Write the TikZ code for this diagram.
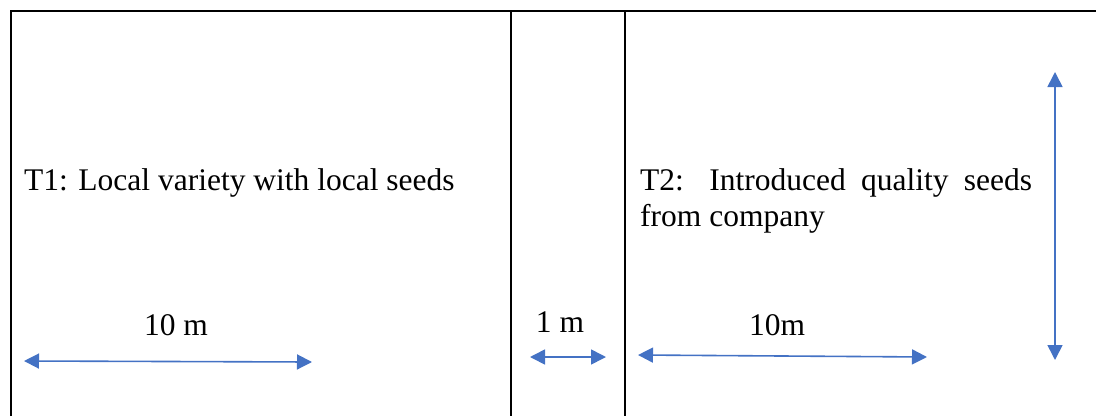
\documentclass[tikz,border=0pt]{standalone}
\usepackage{fontspec}
\setmainfont{Liberation Serif}
\usetikzlibrary{arrows.meta}
\definecolor{dimblue}{HTML}{4472C4}
\tikzset{
  frame/.style={line width=2.8pt, black},
  dimline/.style={dimblue, line width=1.6pt,
    {Triangle[length=15pt,width=15pt]}-{Triangle[length=15pt,width=15pt]}},
  label/.style={font=\fontsize{31.5}{36}\selectfont, inner sep=0pt},
}
\begin{document}
\begin{tikzpicture}[x=1pt,y=-1pt]
\useasboundingbox (0,0) rectangle (1096,416);
% plot borders
\draw[frame] (11,416) -- (11,11) -- (1096,11);
\draw[frame] (511,11) -- (511,416);
\draw[frame] (625,11) -- (625,416);
% treatment labels
\node[label, anchor=base west] (t1) at (24,190) {T1: Local variety with local seeds};
\node[label, anchor=base west, text width=392pt, align=justify] (t2) at (640,190)
  {T2: Introduced quality seeds from company};
% dimension labels
\node[label, anchor=base] (d1) at (176,335) {10 m};
\node[label, anchor=base] (d2) at (560,332) {1 m};
\node[label, anchor=base] (d3) at (777,335) {10m};
% dimension arrows
\coordinate (a1) at (24,361);  \coordinate (b1) at (312,362);
\coordinate (a2) at (530,357); \coordinate (b2) at (606,357);
\coordinate (a3) at (638,355); \coordinate (b3) at (927,357);
\coordinate (a4) at (1055,72); \coordinate (b4) at (1055,360);
\draw[dimline] (a1) -- (b1);
\draw[dimline] (a2) -- (b2);
\draw[dimline] (a3) -- (b3);
\draw[dimline] (a4) -- (b4);
\end{tikzpicture}
\end{document}
